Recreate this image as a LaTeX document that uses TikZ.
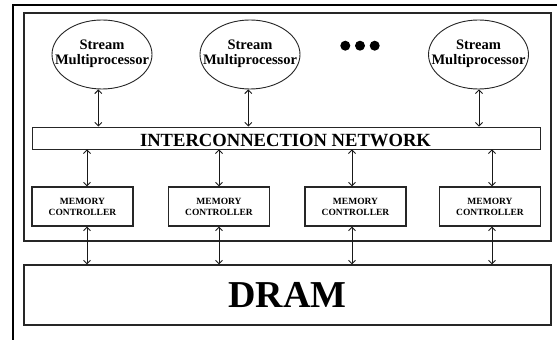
\documentclass[tikz,border=0pt]{standalone}
\usepackage{fontspec}
\setmainfont{Liberation Serif}
\usetikzlibrary{shapes.geometric,arrows.meta}

\tikzset{
  frame/.style={draw=black!85, line width=1.1pt},
  smnode/.style={ellipse, draw=black!85, line width=0.9pt, minimum width=100pt, minimum height=69pt, inner sep=0pt},
  smtext/.style={align=center, font=\bfseries\fontsize{14.5}{15}\selectfont, inner sep=0pt},
  netbox/.style={draw=black!85, line width=0.9pt, minimum width=508pt, minimum height=22pt, inner sep=0pt},
  mcbox/.style={draw=black!85, line width=1.1pt, minimum width=101pt, minimum height=39pt, inner sep=0pt,
    align=center, font=\bfseries\fontsize{9.5}{11}\selectfont},
  drambox/.style={draw=black!85, line width=1.1pt, minimum width=527pt, minimum height=60pt, inner sep=0pt},
  biarrow/.style={{Straight Barb[length=3.5pt,width=7pt]}-{Straight Barb[length=3.5pt,width=7pt]}, line width=0.9pt, black!90},
  dot/.style={circle, fill=black, minimum size=10pt, inner sep=0pt}
}

\begin{document}
\begin{tikzpicture}[x=1pt,y=1pt]
\useasboundingbox (0,0) rectangle (557,340);
\fill[white] (0,0) rectangle (557,340);

% outer frame (only its top and left edges fall inside the page)
\begin{scope}
\clip (0,0) rectangle (557,340);
\draw[black, line width=2pt] (13,-10) |- (570,335);
\end{scope}

% inner frame around the GPU part
\draw[frame] (24,99) rectangle (551,327);

% stream multiprocessors
\node[smnode] (sm1) at (102,285.5) {};
\node[smnode] (sm2) at (250,285.5) {};
\node[smnode] (sm3) at (478.5,285.5) {};
\foreach \s in {sm1,sm2,sm3}
  \node[smtext] at ([yshift=1pt]\s.center) {Stream\\Multiprocessor};

% ellipsis dots
\node[dot] (d1) at (345.3,294.3) {};
\node[dot] (d2) at (360,294.3) {};
\node[dot] (d3) at (374.7,294.3) {};

% interconnection network
\node[netbox] (ic) at (286,202) {};
\node[anchor=base, inner sep=0pt, font=\bfseries\fontsize{18.6}{20}\selectfont] (ictext) at (285.5,193.3) {INTERCONNECTION NETWORK};

% memory controllers
\node[mcbox] (mc1) at (82.5,133.5) {MEMORY\\CONTROLLER};
\node[mcbox] (mc2) at (219,133.5) {MEMORY\\CONTROLLER};
\node[mcbox] (mc3) at (355.5,133.5) {MEMORY\\CONTROLLER};
\node[mcbox] (mc4) at (490,133.5) {MEMORY\\CONTROLLER};

% DRAM
\node[drambox] (dram) at (287.5,45) {};
\node[inner sep=0pt, font=\bfseries\fontsize{38}{40}\selectfont] (dramtext) at (287.5,45) {DRAM};

% column positions of the links
\coordinate (s1) at (98.3,0);
\coordinate (s2) at (248.3,0);
\coordinate (s3) at (479,0);
\coordinate (c1) at (87,0);
\coordinate (c2) at (219,0);
\coordinate (c3) at (352,0);
\coordinate (c4) at (492,0);

% multiprocessor <-> network
\draw[biarrow] (sm1.south -| s1) -- (ic.north -| s1);
\draw[biarrow] (sm2.south -| s2) -- (ic.north -| s2);
\draw[biarrow] (sm3.south -| s3) -- (ic.north -| s3);

% network <-> controllers, controllers <-> DRAM
\foreach \i in {1,2,3,4} {
  \draw[biarrow] (ic.south -| c\i) -- (mc\i.north -| c\i);
  \draw[biarrow] (mc\i.south -| c\i) -- (dram.north -| c\i);
}
\end{tikzpicture}
\end{document}
